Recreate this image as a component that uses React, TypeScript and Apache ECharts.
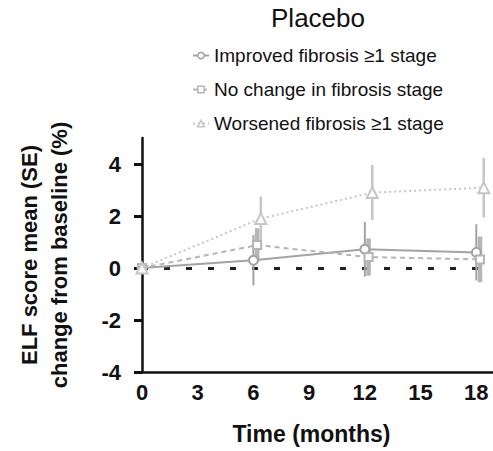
import React, { useEffect, useRef } from "react";
import * as echarts from "echarts";

const seriesNames = [
  "Improved fibrosis ≥1 stage",
  "No change in fibrosis stage",
  "Worsened fibrosis ≥1 stage",
];
// x positions (months, slightly jittered as in the figure)
const xImproved = [0, 6, 12, 18];
const xNoChange = [0, 6.2, 12.2, 18.2];
const xWorsened = [0, 6.4, 12.4, 18.4];
// mean change (%)
const meanImproved = [0, 0.3, 0.72, 0.6];
const meanNoChange = [0, 0.88, 0.42, 0.33];
const meanWorsened = [0, 1.9, 2.9, 3.09];
// SE
const seImproved = [0, 0.97, 1.05, 1.08];
const seNoChange = [0, 0.65, 0.72, 0.88];
const seWorsened = [0, 0.85, 1.06, 1.15];

const xTicks = [0, 3, 6, 9, 12, 15, 18];
const yTicks = [-4, -2, 0, 2, 4];

const colors = ["#a3a3a3", "#b5b5b5", "#c6c6c6"];
const FONT = "Liberation Sans, Arial, sans-serif";

export default function App() {
  const ref = useRef<HTMLDivElement>(null);
  useEffect(() => {
    const chart = echarts.init(ref.current!, null, { renderer: "svg" });
    const groups = [
      { x: xImproved, m: meanImproved, se: seImproved, symbol: "circle", size: 9, line: "solid", lw: 2, ew: 2 },
      { x: xNoChange, m: meanNoChange, se: seNoChange, symbol: "rect", size: 8, line: [5, 4], lw: 2, ew: 4.5 },
      { x: xWorsened, m: meanWorsened, se: seWorsened, symbol: "triangle", size: 11, line: [2, 3], lw: 2, ew: 2.5 },
    ];
    const series: any[] = [];
    groups.forEach((g, i) => {
      series.push({
        type: "custom",
        name: seriesNames[i] + "-err",
        z: 1,
        silent: true,
        data: g.x.map((x, k) => [x, g.m[k] - g.se[k], g.m[k] + g.se[k]]),
        encode: { x: 0, y: [1, 2] },
        renderItem: (params: any, api: any) => {
          const p1 = api.coord([api.value(0), api.value(1)]);
          const p2 = api.coord([api.value(0), api.value(2)]);
          return {
            type: "line",
            shape: { x1: p1[0], y1: p1[1], x2: p2[0], y2: p2[1] },
            style: { stroke: colors[i], lineWidth: g.ew },
          };
        },
      });
    });
    groups.forEach((g, i) => {
      series.push({
        type: "line",
        name: seriesNames[i],
        z: 3,
        data: g.x.map((x, k) => [x, g.m[k]]),
        symbol: g.symbol,
        symbolSize: g.size,
        showSymbol: true,
        itemStyle: { color: "#ffffff", borderColor: colors[i], borderWidth: 2 },
        lineStyle: { color: colors[i], width: g.lw, type: g.line },
        ...(i === 0
          ? {
              markLine: {
                silent: true,
                symbol: "none",
                z: 0,
                label: { show: false },
                lineStyle: { color: "#222", width: 2.8, type: [6, 16] },
                data: [{ yAxis: 0 }],
              },
            }
          : {}),
      });
    });

    chart.setOption({
      animation: false,
      title: {
        text: "Placebo",
        left: 313,
        textAlign: "center",
        top: 0,
        textStyle: { fontFamily: FONT, fontSize: 26, fontWeight: "normal", color: "#111" },
      },
      legend: {
        orient: "vertical",
        left: 187,
        top: 41,
        itemWidth: 16,
        itemHeight: 8,
        itemGap: 15,
        data: seriesNames.map((n, i) => ({
          name: n,
          itemStyle: { color: "#fff", borderColor: colors[i], borderWidth: 1.5 },
        })),
        textStyle: { fontFamily: FONT, fontSize: 19, color: "#111" },
      },
      grid: { left: 142, right: 0, top: 138, bottom: 79, outerBoundsMode: "none" },
      xAxis: {
        type: "value",
        min: 0,
        max: 18.9,
        interval: 3,
        name: "Time (months)",
        nameLocation: "middle",
        nameGap: 50,
        nameTextStyle: { fontFamily: FONT, fontSize: 23, fontWeight: "bold", color: "#111", padding: [0, 12, 0, 0] },
        axisLine: { onZero: false, lineStyle: { color: "#111", width: 2.5 } },
        axisTick: { show: false },
        splitLine: { show: false },
        axisLabel: {
          customValues: xTicks,
          margin: 9,
          fontFamily: FONT,
          fontSize: 22,
          fontWeight: "bold",
          color: "#111",
        },
      },
      yAxis: {
        type: "value",
        min: -4,
        max: 5,
        interval: 2,
        name: "ELF score mean (SE)\nchange from baseline (%)",
        nameLocation: "middle",
        nameGap: 68,
        nameTextStyle: { fontFamily: FONT, fontSize: 22, fontWeight: "bold", color: "#111", lineHeight: 30 },
        axisLine: { show: true, onZero: false, lineStyle: { color: "#111", width: 2.5 } },
        axisTick: { show: true, customValues: yTicks, length: 8, lineStyle: { width: 3, color: "#111" } },
        splitLine: { show: false },
        axisLabel: {
          customValues: yTicks,
          margin: 21,
          fontFamily: FONT,
          fontSize: 22,
          fontWeight: "bold",
          color: "#111",
        },
      },
      series,
    });
    return () => chart.dispose();
  }, []);
  return <div ref={ref} style={{ width: 493, height: 451, position: "absolute", left: 0, top: 0 }} />;
}
